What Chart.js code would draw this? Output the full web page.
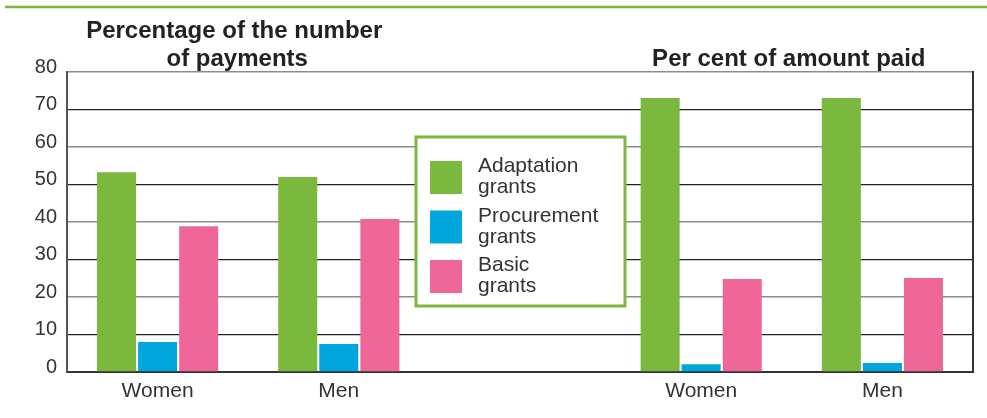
<!DOCTYPE html>
<html>
<head>
<meta charset="utf-8">
<script src="https://cdn.jsdelivr.net/npm/chart.js@4/dist/chart.umd.min.js"></script>
<style>
  html, body { margin: 0; padding: 0; background: #fff; }
  #wrap { width: 987px; height: 418px; position: relative; }
</style>
</head>
<body>
<div id="wrap"><canvas id="c" width="987" height="418"></canvas></div>
<script>
const categories = ['Women', 'Men', '', 'Women', 'Men'];
const adaptation = [53.3, 52.0, null, 73.1, 73.1];
const procurement = [8.0, 7.5, null, 2.1, 2.4];
const basic = [38.9, 40.8, null, 24.8, 25.1];
const seriesNames = [['Adaptation', 'grants'], ['Procurement', 'grants'], ['Basic', 'grants']];
const yTicks = [0, 10, 20, 30, 40, 50, 60, 70, 80];
const panelTitles = [['Percentage of the number', 'of payments'], ['Per cent of amount paid']];

const GREEN = '#7ab83e', BLUE = '#00a7dd', PINK = '#ef6799';
const FONT = '"Liberation Sans", Arial, Helvetica, sans-serif';

const decor = {
  id: 'decor',
  afterDraw(chart) {
    const ctx = chart.ctx, a = chart.chartArea;
    const xs = chart.scales.x;
    ctx.save();
    // top green rule
    ctx.strokeStyle = GREEN; ctx.lineWidth = 2.5;
    ctx.beginPath(); ctx.moveTo(5, 7); ctx.lineTo(987, 7); ctx.stroke();
    // right border
    ctx.strokeStyle = '#333'; ctx.lineWidth = 2;
    ctx.beginPath(); ctx.moveTo(a.right, a.top - 1); ctx.lineTo(a.right, a.bottom + 1); ctx.stroke();
    // titles
    ctx.fillStyle = '#222';
    ctx.font = 'bold 24px ' + FONT;
    ctx.textAlign = 'center'; ctx.textBaseline = 'alphabetic';
    const lx = (xs.getPixelForValue(0) + xs.getPixelForValue(1)) / 2 - 14;
    ctx.fillText(panelTitles[0][0], lx, 38);
    ctx.fillText(panelTitles[0][1], lx + 3, 66);
    const rx = (xs.getPixelForValue(3) + xs.getPixelForValue(4)) / 2 - 3;
    ctx.fillText(panelTitles[1][0], rx, 66);
    // legend box
    const cx = xs.getPixelForValue(2);
    const bx = cx - 104, by = 137, bw = 209, bh = 169;
    ctx.fillStyle = '#fff';
    ctx.fillRect(bx, by, bw, bh);
    ctx.strokeStyle = GREEN; ctx.lineWidth = 3;
    ctx.strokeRect(bx, by, bw, bh);
    const colors = [GREEN, BLUE, PINK];
    ctx.font = '21px ' + FONT;
    ctx.textAlign = 'left';
    for (let i = 0; i < 3; i++) {
      const sy = by + 24 + i * 49.5;
      ctx.fillStyle = colors[i];
      ctx.fillRect(bx + 14, sy, 32, 33);
      ctx.fillStyle = '#333';
      ctx.fillText(seriesNames[i][0], bx + 62, sy + 11);
      ctx.fillText(seriesNames[i][1], bx + 62, sy + 32);
    }
    ctx.restore();
  }
};

new Chart(document.getElementById('c'), {
  type: 'bar',
  data: {
    labels: categories,
    datasets: [
      { label: 'Adaptation grants', data: adaptation, backgroundColor: GREEN },
      { label: 'Procurement grants', data: procurement, backgroundColor: BLUE },
      { label: 'Basic grants', data: basic, backgroundColor: PINK }
    ]
  },
  options: {
    responsive: false,
    animation: false,
    devicePixelRatio: 1,
    categoryPercentage: 0.68,
    barPercentage: 0.95,
    layout: { padding: { top: 72, right: 14, left: 0, bottom: 0 } },
    plugins: { legend: { display: false }, tooltip: { enabled: false }, title: { display: false } },
    scales: {
      x: {
        grid: { display: false },
        border: { display: true, color: '#333', width: 2 },
        ticks: { color: '#333', font: { family: FONT, size: 21 }, padding: -1, maxRotation: 0, autoSkip: false },
        afterFit(s) { s.height = 46; }
      },
      y: {
        min: 0, max: 80,
        afterBuildTicks(s) { s.ticks = yTicks.map(v => ({ value: v })); },
        grid: {
          drawTicks: false,
          color: c => (c.tick && c.tick.value % 20 === 0) ? '#8c8c8c' : '#222',
          lineWidth: c => (c.tick && c.tick.value % 20 === 0) ? 1.6 : 1.2
        },
        border: { display: true, color: '#555', width: 2 },
        ticks: { color: '#333', font: { family: FONT, size: 20 }, padding: 10, labelOffset: -5 },
        afterFit(s) { s.width = 67; }
      }
    }
  },
  plugins: [decor]
});
</script>
</body>
</html>
